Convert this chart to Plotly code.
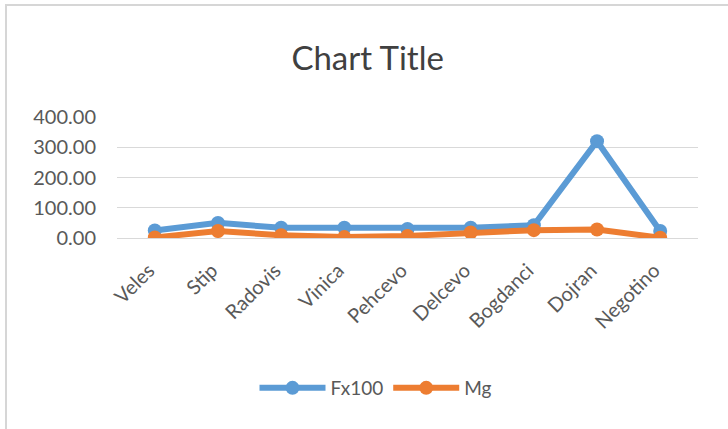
import plotly.graph_objects as go

# Sampling towns and measured values
towns = ["Veles", "Stip", "Radovis", "Vinica", "Pehcevo", "Delcevo",
         "Bogdanci", "Dojran", "Negotino"]
fx100 = [25, 50, 34, 34, 30, 34, 42, 320, 23]
mg = [2, 23, 9, 3, 7, 18, 26, 28, 1]

BLUE = "#5B9BD5"
ORANGE = "#ED7D31"
TEXT = "#595959"
GRID = "#D9D9D9"
FONT = "Lato, 'Open Sans', sans-serif"

fig = go.Figure()
fig.add_trace(go.Scatter(
    x=towns, y=fx100, name="Fx100", mode="lines+markers",
    line=dict(color=BLUE, width=6),
    marker=dict(color=BLUE, size=14),
))
fig.add_trace(go.Scatter(
    x=towns, y=mg, name="Mg", mode="lines+markers",
    line=dict(color=ORANGE, width=6),
    marker=dict(color=ORANGE, size=14),
))

L, R, T, B = 117, 30, 117, 191
W, H = 728, 429
pw, ph = W - L - R, H - T - B

def px_x(x):
    return (x - L) / pw

def px_y(y):
    return (H - B - y) / ph

fig.update_layout(
    width=W, height=H,
    margin=dict(l=L, r=R, t=T, b=B),
    paper_bgcolor="white",
    plot_bgcolor="white",
    font=dict(family=FONT, color=TEXT),
    title=dict(
        text="Chart Title",
        x=0.505, xref="container", xanchor="center",
        y=1 - 58 / H, yref="container", yanchor="middle",
        font=dict(size=33, color="#404040", family=FONT),
    ),
    showlegend=True,
    legend=dict(
        orientation="h",
        x=px_x(376), xanchor="center",
        y=px_y(388), yanchor="middle",
        font=dict(size=19, color=TEXT),
        itemwidth=66,
        tracegroupgap=0,
    ),
    xaxis=dict(
        type="category",
        showgrid=False,
        showline=False,
        zeroline=False,
        tickangle=-45,
        tickfont=dict(size=20, color=TEXT),
        ticks="",
        ticklabelstandoff=16,
        ticklabelshift=-6,
        fixedrange=True,
    ),
    yaxis=dict(
        range=[0, 400],
        tickvals=[0, 100, 200, 300, 400],
        tickformat=".2f",
        showgrid=True,
        gridcolor=GRID,
        gridwidth=1.3,
        zeroline=True,
        zerolinecolor=GRID,
        zerolinewidth=1.3,
        showline=False,
        ticks="",
        tickfont=dict(size=20, color=TEXT),
        ticklabelstandoff=20,
        fixedrange=True,
    ),
    shapes=[
        dict(type="line", xref="paper", yref="paper",
             x0=px_x(5), x1=px_x(728), y0=px_y(5), y1=px_y(5),
             line=dict(color="#D6D6D6", width=2)),
        dict(type="line", xref="paper", yref="paper",
             x0=px_x(6), x1=px_x(6), y0=px_y(5), y1=px_y(429),
             line=dict(color="#D6D6D6", width=2)),
    ],
)

fig.write_html("out.html")
